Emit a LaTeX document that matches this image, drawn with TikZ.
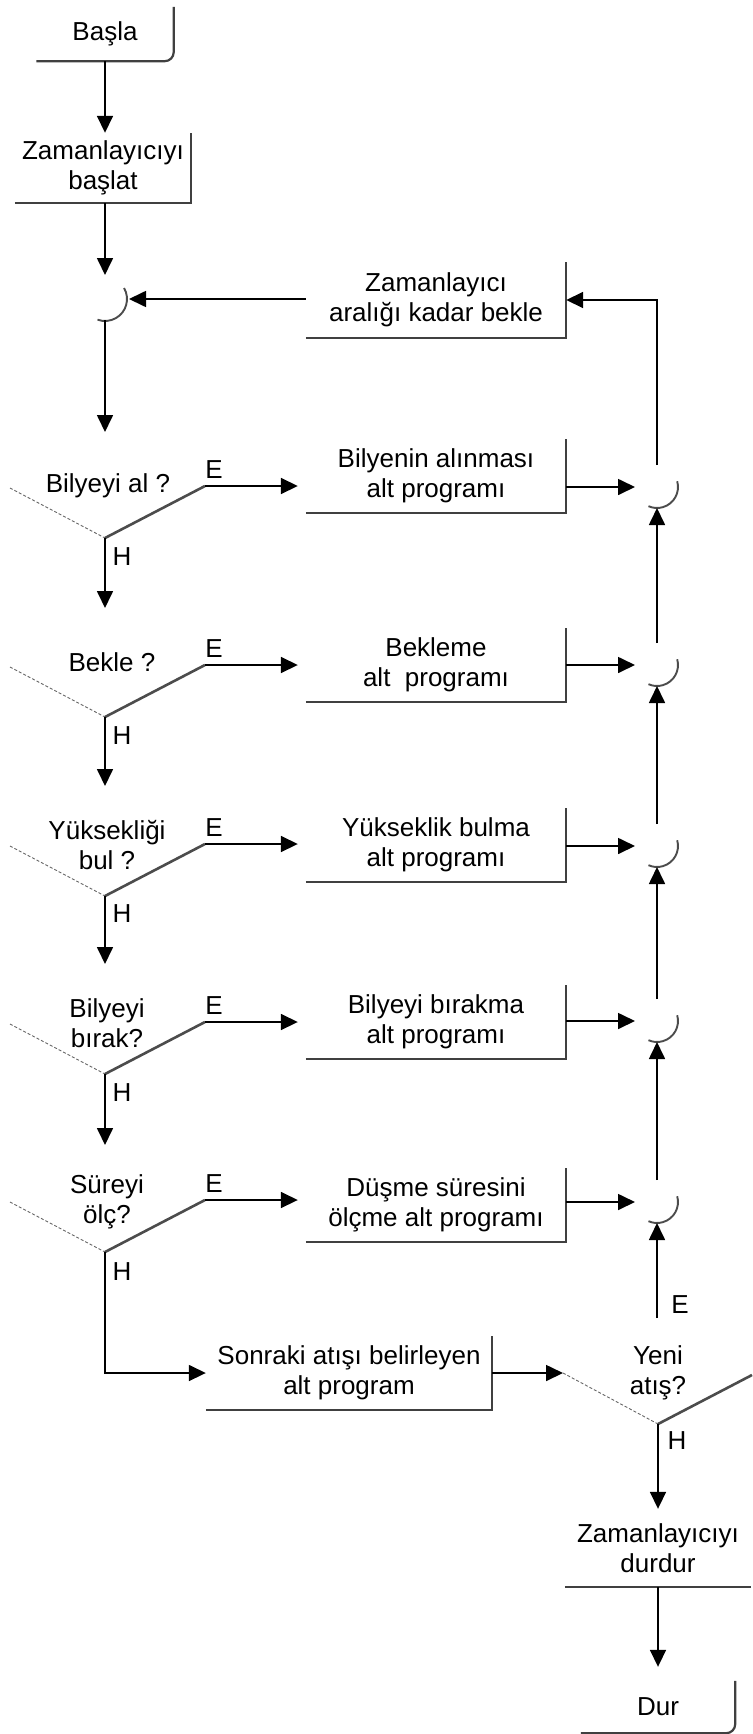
\documentclass[tikz,border=0pt]{standalone}
\usepackage{fontspec}
\setmainfont{Liberation Sans}
\usetikzlibrary{arrows.meta}

\begin{document}
\begin{tikzpicture}[
        x=1pt, y=-1pt,
        every node/.style={font=\fontsize{26}{30}\selectfont, align=center, inner sep=0pt},
        sub/.style={minimum width=260pt, minimum height=74pt},
        flow/.style={-{Triangle[length=17pt,width=16pt]}, line width=1.7pt},
        edge/.style={line width=2.2pt, black!75},
        yes/.style={line width=2.6pt, black!70},
        no/.style={densely dashed, line width=0.9pt, black!60},
        merge/.style={line width=1.9pt, black!70}
    ]
    \useasboundingbox (0,0) rectangle (752,1734);

    % Start
    \node (start) [minimum width=137pt, minimum height=54pt] at (105,34) {Başla};
    \draw[edge, rounded corners=9pt] (start.south west) -- (start.south east) -- (start.north east);
    \node (init) [minimum width=176pt, minimum height=70pt] at (103,168) {Zamanlayıcıyı\\başlat};
    \draw[edge] (init.south west) -- (init.south east) -- (init.north east);
    \draw[flow] (start.south) -- (start.south |- init.north);

    % Loop entry
    \coordinate (j0) at (105,299);
    \draw[merge] (j0) ++(-30:22) arc[start angle=-30, end angle=110, radius=22];
    \node (wait) [sub, minimum height=75pt] at (436,300) {Zamanlayıcı\\aralığı kadar bekle};
    \draw[edge] (wait.south west) -- (wait.south east) -- (wait.north east);
    \draw[flow] (init.south -| j0) -- ([yshift=24pt]j0);
    \draw[flow] (wait.west |- j0) -- ([xshift=24pt]j0);

    % Decisions
    \coordinate (in1) at (105,432);
    \coordinate (d1) at (105,538); \coordinate (l1) at (10,488); \coordinate (e1) at (205,486);
    \coordinate (in2) at (105,608);
    \coordinate (d2) at (105,717); \coordinate (l2) at (10,667); \coordinate (e2) at (205,665);
    \coordinate (in3) at (105,786);
    \coordinate (d3) at (105,896); \coordinate (l3) at (10,846); \coordinate (e3) at (205,844);
    \coordinate (in4) at (105,964);
    \coordinate (d4) at (105,1074); \coordinate (l4) at (10,1024); \coordinate (e4) at (205,1022);
    \coordinate (in5) at (105,1145);
    \coordinate (d5) at (105,1252); \coordinate (l5) at (10,1202); \coordinate (e5) at (205,1200);

    \node (q1) at (108,486) {Bilyeyi al ?};
    \node (q2) at (112,662) {Bekle ?};
    \node (q3) at (107,845) {Yüksekliği\\bul ?};
    \node (q4) at (107,1023) {Bilyeyi\\bırak?};
    \node (q5) at (107,1202) {Süreyi\\ölç?};

    \draw[no] (l1) -- (d1); \draw[yes] (d1) -- (e1);
    \draw[no] (l2) -- (d2); \draw[yes] (d2) -- (e2);
    \draw[no] (l3) -- (d3); \draw[yes] (d3) -- (e3);
    \draw[no] (l4) -- (d4); \draw[yes] (d4) -- (e4);
    \draw[no] (l5) -- (d5); \draw[yes] (d5) -- (e5);

    \node (y1) at (214,470) {E}; \node (h1) at (122,557) {H};
    \node (y2) at (214,649) {E}; \node (h2) at (122,736) {H};
    \node (y3) at (214,828) {E}; \node (h3) at (122,914) {H};
    \node (y4) at (214,1006) {E}; \node (h4) at (122,1093) {H};
    \node (y5) at (214,1184) {E}; \node (h5) at (122,1272) {H};

    \draw[flow] ([yshift=-21pt]j0) -- (in1);
    \draw[flow] (d1) -- (in2);
    \draw[flow] (d2) -- (in3);
    \draw[flow] (d3) -- (in4);
    \draw[flow] (d4) -- (in5);

    % Sub programs
    \node (b1) [sub] at (436,476) {Bilyenin alınması\\alt programı};
    \node (b2) [sub] at (436,665) {Bekleme\\alt\ \ programı};
    \node (b3) [sub] at (436,845) {Yükseklik bulma\\alt programı};
    \node (b4) [sub] at (436,1022) {Bilyeyi bırakma\\alt programı};
    \node (b5) [sub] at (436,1205) {Düşme süresini\\ölçme alt programı};
    \draw[edge] (b1.south west) -- (b1.south east) -- (b1.north east);
    \draw[edge] (b2.south west) -- (b2.south east) -- (b2.north east);
    \draw[edge] (b3.south west) -- (b3.south east) -- (b3.north east);
    \draw[edge] (b4.south west) -- (b4.south east) -- (b4.north east);
    \draw[edge] (b5.south west) -- (b5.south east) -- (b5.north east);

    \draw[flow] (e1) -- ([xshift=-8pt]b1.west |- e1);
    \draw[flow] (e2) -- ([xshift=-8pt]b2.west |- e2);
    \draw[flow] (e3) -- ([xshift=-8pt]b3.west |- e3);
    \draw[flow] (e4) -- ([xshift=-8pt]b4.west |- e4);
    \draw[flow] (e5) -- ([xshift=-8pt]b5.west |- e5);

    % Merges on the right
    \coordinate (m1) at (657,487);
    \coordinate (m2) at (657,665);
    \coordinate (m3) at (657,846);
    \coordinate (m4) at (657,1021);
    \coordinate (m5) at (657,1202);
    \draw[merge] (m1) ++(-16:21) arc[start angle=-16, end angle=114, radius=21];
    \draw[merge] (m2) ++(-16:21) arc[start angle=-16, end angle=114, radius=21];
    \draw[merge] (m3) ++(-16:21) arc[start angle=-16, end angle=114, radius=21];
    \draw[merge] (m4) ++(-16:21) arc[start angle=-16, end angle=114, radius=21];
    \draw[merge] (m5) ++(-16:21) arc[start angle=-16, end angle=114, radius=21];

    \draw[flow] (b1.east |- m1) -- ([xshift=-22pt]m1);
    \draw[flow] (b2.east |- m2) -- ([xshift=-22pt]m2);
    \draw[flow] (b3.east |- m3) -- ([xshift=-22pt]m3);
    \draw[flow] (b4.east |- m4) -- ([xshift=-22pt]m4);
    \draw[flow] (b5.east |- m5) -- ([xshift=-22pt]m5);

    \draw[flow] ([yshift=22pt]m2) -- ([yshift=-21pt]m1);
    \draw[flow] ([yshift=22pt]m3) -- ([yshift=-21pt]m2);
    \draw[flow] ([yshift=22pt]m4) -- ([yshift=-21pt]m3);
    \draw[flow] ([yshift=22pt]m5) -- ([yshift=-21pt]m4);
    \draw[flow] ([yshift=22pt]m1) |- (wait.east);

    % Next shot
    \node (next) [minimum width=286pt, minimum height=73pt] at (349,1373) {Sonraki atışı belirleyen\\alt program};
    \draw[edge] (next.south west) -- (next.south east) -- (next.north east);
    \draw[flow] (d5) |- (next.west);

    \coordinate (d6) at (658,1424); \coordinate (l6) at (563,1373); \coordinate (e6) at (752,1375);
    \coordinate (up6) at (657,1318);
    \node (q6) at (658,1373) {Yeni\\atış?};
    \draw[no] (l6) -- (d6); \draw[yes] (d6) -- (e6);
    \node (y6) at (680,1305) {E}; \node (h6) at (677,1441) {H};
    \draw[flow] (next.east) -- (l6);
    \draw[flow] (up6) -- ([yshift=-21pt]m5);

    % Stop
    \node (halt) [minimum width=186pt, minimum height=78pt] at (658,1548) {Zamanlayıcıyı\\durdur};
    \draw[edge] (halt.south west) -- (halt.south east);
    \draw[flow] (d6) -- (d6 |- halt.north);
    \node (fin) [minimum width=154pt, minimum height=52pt] at (658,1707) {Dur};
    \draw[edge, rounded corners=9pt] (fin.south west) -- (fin.south east) -- (fin.north east);
    \draw[flow] (halt.south) -- ([yshift=14pt]fin.north);
\end{tikzpicture}
\end{document}
